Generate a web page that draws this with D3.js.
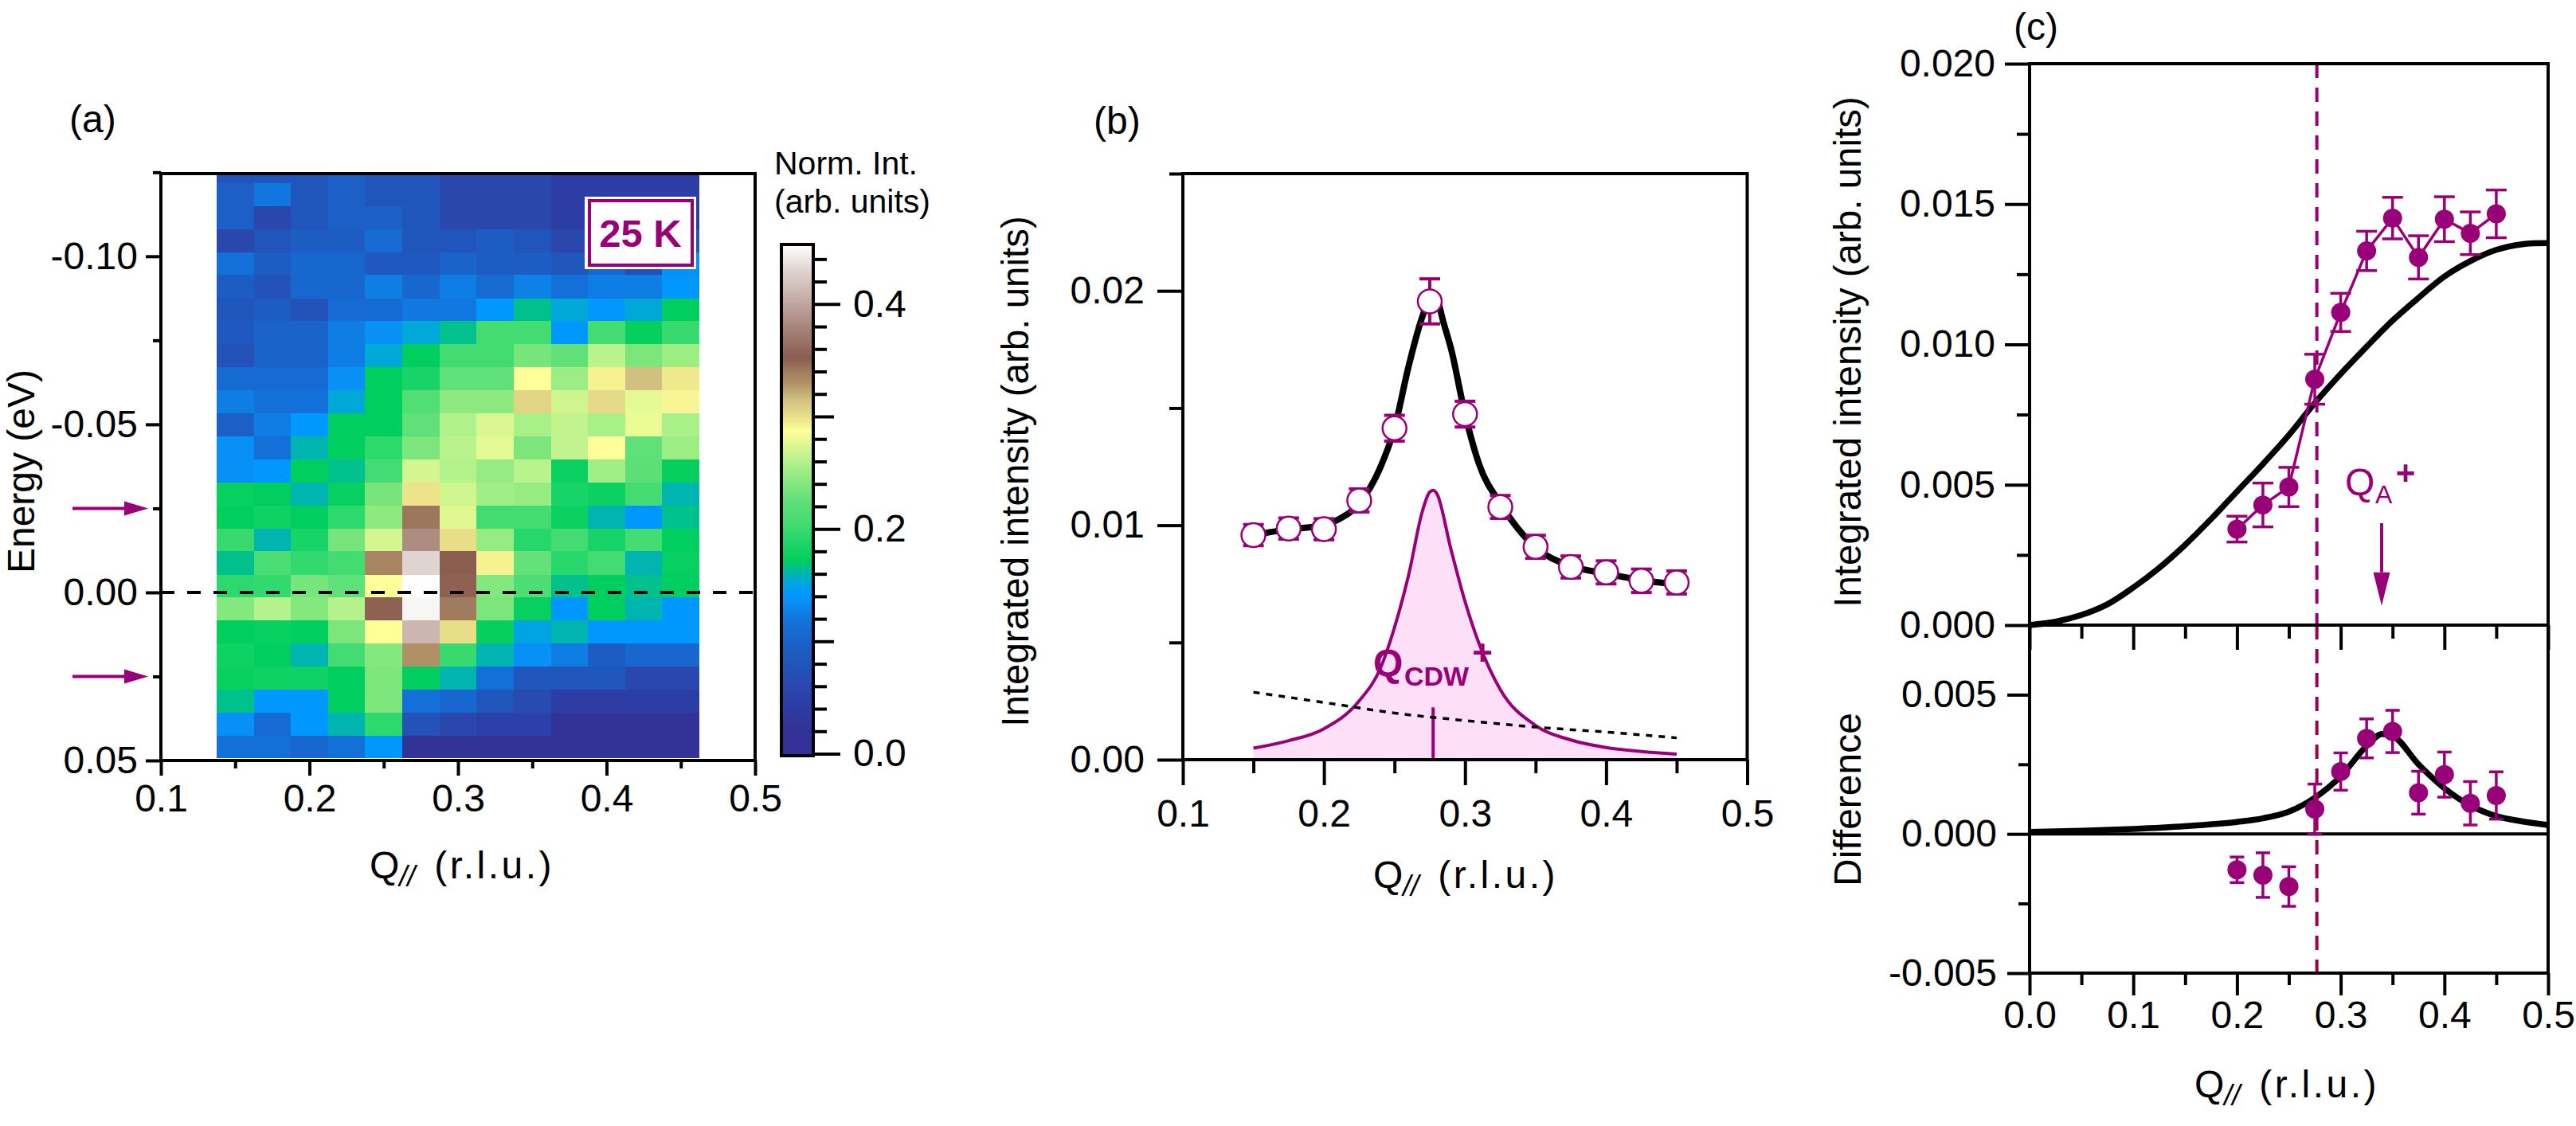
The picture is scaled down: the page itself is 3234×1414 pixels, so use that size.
<!DOCTYPE html>
<html>
<head>
<meta charset="utf-8">
<script src="https://cdn.jsdelivr.net/npm/d3@7"></script>
<style>
  body { margin: 0; background: #fff; }
  text { font-family: "Liberation Sans", Arial, sans-serif; fill: #000; }
</style>
</head>
<body>
<div id="vis"></div>
<script>
const width = 3234;
const height = 1414;
const purple = "#990077";

// (a) intensity map
const heatQ = [0.15, 0.175, 0.2, 0.225, 0.25, 0.275, 0.3, 0.325, 0.35, 0.375, 0.4, 0.425, 0.45];
const heatE = [-0.1252, -0.1184, -0.1115, -0.1047, -0.0978, -0.0910, -0.0841, -0.0773, -0.0704, -0.0636, -0.0567, -0.0499, -0.0430,
  -0.0362, -0.0293, -0.0225, -0.0156, -0.0088, -0.0019, 0.0049, 0.0118, 0.0186, 0.0255, 0.0323, 0.0392, 0.0460];
const heatValues = [
  [.08, .08, .08, .095, .08, .08, .06, .06, .06, .045, .045, .045, .045],
  [.095, .12, .08, .095, .08, .08, .06, .06, .06, .045, .045, .045, .045],
  [.095, .06, .08, .095, .095, .08, .06, .06, .06, .045, .045, .045, .045],
  [.06, .08, .09, .09, .11, .08, .08, .09, .08, .06, .06, .06, .08],
  [.115, .09, .105, .105, .085, .085, .10, .09, .09, .08, .105, .07, .135],
  [.09, .075, .105, .105, .125, .105, .125, .11, .127, .115, .125, .125, .142],
  [.08, .09, .075, .11, .11, .122, .122, .142, .165, .153, .142, .153, .172],
  [.085, .10, .10, .125, .135, .153, .165, .205, .205, .142, .205, .175, .20],
  [.075, .10, .10, .125, .153, .172, .205, .205, .235, .225, .262, .237, .25],
  [.11, .11, .11, .135, .172, .185, .225, .225, .287, .25, .292, .315, .296],
  [.125, .115, .115, .153, .172, .215, .245, .245, .305, .27, .302, .278, .291],
  [.095, .125, .142, .172, .172, .225, .258, .274, .256, .265, .256, .28, .256],
  [.135, .115, .16, .172, .195, .237, .262, .278, .237, .265, .287, .225, .25],
  [.135, .142, .172, .165, .205, .272, .26, .248, .262, .178, .252, .222, .175],
  [.176, .172, .16, .176, .235, .298, .27, .252, .248, .185, .178, .205, .16],
  [.172, .18, .172, .195, .245, .342, .276, .205, .205, .178, .16, .142, .165],
  [.2, .16, .185, .235, .272, .385, .30, .248, .192, .205, .185, .205, .172],
  [.165, .21, .197, .205, .335, .43, .352, .292, .227, .192, .205, .16, .176],
  [.195, .197, .235, .225, .287, .455, .35, .24, .212, .165, .172, .165, .172],
  [.24, .26, .24, .26, .35, .448, .34, .237, .176, .142, .172, .16, .142],
  [.172, .176, .172, .237, .287, .41, .30, .175, .15, .16, .142, .142, .142],
  [.18, .172, .16, .205, .24, .33, .2, .16, .135, .125, .09, .105, .105],
  [.176, .18, .18, .172, .237, .172, .16, .115, .08, .08, .08, .06, .06],
  [.165, .142, .142, .172, .237, .115, .105, .08, .065, .045, .045, .045, .045],
  [.135, .11, .142, .16, .195, .075, .06, .05, .05, .02, .02, .02, .02],
  [.115, .115, .105, .115, .142, .02, .02, .02, .02, .02, .02, .02, .02]
];
const arrowE = [-0.025, 0.025];

const colorStops = [0, .02, .045, .06, .08, .095, .11, .122, .135, .142, .153, .16, .165, .172, .185, .205, .225, .245, .26, .272,
  .287, .30, .315, .33, .34, .352, .385, .405, .43, .448, .455];
const colorValues = ["#33309a", "#333296", "#2c3da5", "#2a47ae", "#2055bb", "#1c5fc6", "#166bd3", "#1078e0", "#0790f5", "#0098ff",
  "#00a8d8", "#00b4b0", "#00c08c", "#00ce5e", "#18d468", "#42dc72", "#60e078", "#8eea80", "#b4f28c", "#d4f690",
  "#ffff99", "#e8de88", "#d2c080", "#b09064", "#a07c5f", "#8b5c50", "#ad8c82", "#c6aea8", "#e0d4d0", "#f8f6f4", "#ffffff"];

// (b) integrated intensity
const bQ = [0.15, 0.175, 0.2, 0.225, 0.25, 0.275, 0.3, 0.325, 0.35, 0.375, 0.4, 0.425, 0.45];
const bInt = [.00958, .00986, .00983, .01106, .01414, .01955, .01474, .01078, .00908, .00822, .00799, .00763, .00756];
const bErr = [.00045, .00045, .00045, .00049, .00055, .00096, .00055, .00049, .00049, .00047, .00049, .0005, .00049];
const bFitQ = [.15, .175, .2, .21, .225, .24, .25, .26, .27, .275, .28, .285, .29, .3, .31, .325, .35, .375, .4, .425, .45];
const bFit = [.00958, .00983, .01, .01024, .01093, .01247, .01414, .01678, .01894, .01964, .01957, .01859, .01755, .01474, .0126, .01093, .00905, .00826, .00794, .00766, .00748];
const peakQ = [.15, .175, .2, .225, .24, .25, .26, .27, .275, .2775, .28, .29, .3, .31, .325, .35, .375, .4, .425, .45];
const peak = [.00049, .00081, .00132, .00251, .0039, .00564, .00787, .01065, .01142, .01149, .01135, .00898, .00675, .00494, .00299, .00146, .00084, .00052, .00035, .00024];
const bgQ = [.15, .2, .25, .3, .35, .4, .45];
const bg = [.00288, .00244, .00199, .00167, .00139, .00118, .00093];
const qCdw = 0.2774;

// (c) upper and lower panels
const cQ = [.2, .225, .25, .275, .3, .325, .35, .375, .4, .425, .45];
const cInt = [.00342, .00428, .00492, .00876, .01114, .01333, .0145, .0131, .01446, .01396, .01465];
const cIntErr = [.00046, .00078, .0007, .00089, .00068, .0007, .00074, .00077, .0008, .00076, .00085];
const cFitQ = [0, .025, .05, .075, .1, .125, .15, .175, .2, .225, .25, .275, .3, .325, .35, .375, .4, .425, .45, .475, .5];
const cFit = [0, .00012, .00036, .00074, .00134, .00204, .00286, .00378, .00476, .00574, .00677, .00791, .00895, .00992, .01085, .01166, .01242, .01297, .01337, .01357, .01361];
const cDiff = [-.00129, -.00148, -.00189, .00089, .00224, .00343, .00368, .00148, .00213, .0011, .00138];
const cDiffErr = [.00046, .0008, .00071, .0009, .00067, .0007, .00076, .00077, .00081, .00078, .00085];
const cDiffFitQ = [0, .05, .1, .15, .2, .225, .25, .275, .3, .325, .34, .35, .375, .4, .425, .45, .475, .5];
const cDiffFit = [.00007, .00011, .00018, .00028, .00043, .00056, .0008, .0013, .00207, .00316, .00359, .00352, .0025, .00164, .00102, .00064, .00045, .00032];
const qA = 0.3395;
const qLine = 0.277;

const svg = d3.select("#vis").append("svg").attr("width", width).attr("height", height);

// Draws major and minor ticks with the d3 axes, labels only on the major ones
function addAxis(maker, scale, x, y, major, minor, lenMajor, lenMinor, pad, fmt) {
  const g = svg.append("g").attr("transform", `translate(${x},${y})`);
  g.append("g").call(maker(scale).tickValues(minor).tickSize(lenMinor).tickSizeOuter(0).tickFormat(""));
  g.append("g").call(maker(scale).tickValues(major).tickSize(lenMajor).tickSizeOuter(0).tickPadding(pad).tickFormat(fmt));
  g.selectAll(".domain").remove();
  g.selectAll("line").attr("stroke", "#000").attr("stroke-width", 4);
  g.selectAll("text").attr("font-size", 48).attr("font-family", "Liberation Sans, Arial, sans-serif");
  return g;
}

function addFrame(xs, ys) {
  svg.append("rect")
    .attr("x", xs.range()[0]).attr("y", ys.range()[1])
    .attr("width", xs.range()[1] - xs.range()[0]).attr("height", ys.range()[0] - ys.range()[1])
    .attr("fill", "none").attr("stroke", "#000").attr("stroke-width", 4);
}

function addLabel(str, x, y, size, opts = {}) {
  const t = svg.append("text").attr("x", x).attr("y", y).attr("font-size", size).text(str);
  if (opts.anchor) t.attr("text-anchor", opts.anchor);
  if (opts.weight) t.attr("font-weight", opts.weight);
  if (opts.color) t.style("fill", opts.color);
  if (opts.rotate) t.attr("transform", `rotate(-90,${x},${y})`);
  return t;
}

function addQTitle(cx, y) {
  const t = svg.append("text").attr("x", cx).attr("y", y).attr("font-size", 48).attr("text-anchor", "middle");
  t.append("tspan").text("Q");
  t.append("tspan").attr("dy", 10).attr("font-size", 36).attr("font-style", "italic").text("//");
  t.append("tspan").attr("dy", -10).attr("dx", 24).attr("letter-spacing", 3.5).text("(r.l.u.)");
}

function addArrow(x1, y1, x2, y2, head, half) {
  const horizontal = y1 === y2;
  svg.append("line").attr("x1", x1).attr("y1", y1).attr("x2", horizontal ? x2 - head : x2).attr("y2", horizontal ? y2 : y2 - head)
    .attr("stroke", purple).attr("stroke-width", 4);
  const pts = horizontal
    ? [[x2, y2], [x2 - head, y2 - half], [x2 - head, y2 + half]]
    : [[x2, y2], [x2 - half, y2 - head], [x2 + half, y2 - head]];
  svg.append("polygon").attr("points", pts.map(p => p.join(",")).join(" ")).attr("fill", purple);
}

function addErrors(xs, ys, qs, vals, errs, capHalf, sw) {
  const g = svg.append("g").attr("stroke", purple).attr("stroke-width", sw);
  qs.forEach((q, i) => {
    const x = xs(q), lo = ys(vals[i] - errs[i]), hi = ys(vals[i] + errs[i]);
    g.append("line").attr("x1", x).attr("x2", x).attr("y1", lo).attr("y2", hi);
    g.append("line").attr("x1", x - capHalf).attr("x2", x + capHalf).attr("y1", lo).attr("y2", lo);
    g.append("line").attr("x1", x - capHalf).attr("x2", x + capHalf).attr("y1", hi).attr("y2", hi);
  });
}

function addCurve(xs, ys, qs, vals, stroke, sw, curve) {
  const line = d3.line().x(d => xs(d[0])).y(d => ys(d[1])).curve(curve);
  return svg.append("path").datum(qs.map((q, i) => [q, vals[i]]))
    .attr("d", line).attr("fill", "none").attr("stroke", stroke).attr("stroke-width", sw);
}

// ---------- Panel (a) ----------
const xA = d3.scaleLinear().domain([0.1, 0.5]).range([202, 948]);
const yA = d3.scaleLinear().domain([0.05, -0.1246]).range([955, 218]);
const colorScale = d3.scaleLinear().domain(colorStops).range(colorValues);
const qStep = heatQ[1] - heatQ[0];
const eStep = heatE[1] - heatE[0];

svg.append("clipPath").attr("id", "clipA").append("rect")
  .attr("x", xA(0.1)).attr("y", yA(-0.1246)).attr("width", xA(0.5) - xA(0.1)).attr("height", yA(0.05) - yA(-0.1246));

// rows are drawn top to bottom with 1px overlap so no seams show between them
svg.append("g").attr("clip-path", "url(#clipA)").attr("shape-rendering", "crispEdges")
  .selectAll("g").data(heatValues).join("g")
  .each(function (row, r) {
    d3.select(this).selectAll("rect").data(row).join("rect")
      .attr("x", (d, c) => xA(heatQ[c] - qStep / 2))
      .attr("y", yA(heatE[r] - eStep / 2))
      .attr("width", (d, c) => xA(qStep) - xA(0) + (c < row.length - 1 ? 1 : 0))
      .attr("height", yA(eStep) - yA(0) + (r < heatValues.length - 1 ? 1 : 0))
      .attr("fill", d => colorScale(d));
  });

svg.append("line").attr("x1", xA(0.1)).attr("x2", xA(0.5)).attr("y1", yA(0)).attr("y2", yA(0))
  .attr("stroke", "#000").attr("stroke-width", 4).attr("stroke-dasharray", "17 16");

addFrame(xA, yA);
addAxis(d3.axisBottom, xA, 0, 955, [.1, .2, .3, .4, .5], [.15, .25, .35, .45], 19, 10, 11, d => d.toFixed(1));
addAxis(d3.axisLeft, yA, 202, 0, [-.1, -.05, 0, .05], [-.125, -.075, -.025, .025], 19, 10, 10, d => d.toFixed(2));
addLabel("Energy (eV)", 43, 592, 48, { anchor: "middle", rotate: true });
addQTitle(580, 1103);
addLabel("(a)", 87, 166, 48);
arrowE.forEach(e => addArrow(91, yA(e), 186, yA(e), 30, 9));

// temperature box
svg.append("rect").attr("x", 734).attr("y", 247).attr("width", 140).attr("height", 91).attr("fill", "#fff");
svg.append("rect").attr("x", 740).attr("y", 252).attr("width", 129).attr("height", 81)
  .attr("fill", "#fff").attr("stroke", purple).attr("stroke-width", 4);
addLabel("25 K", 804, 310, 49, { anchor: "middle", weight: "bold", color: purple });

// colour bar
const yBar = d3.scaleLinear().domain([0, 0.453]).range([946.5, 307]);
const grad = svg.append("defs").append("linearGradient").attr("id", "barGrad")
  .attr("gradientUnits", "userSpaceOnUse").attr("x1", 0).attr("x2", 0).attr("y1", yBar(0)).attr("y2", yBar(0.453));
colorStops.forEach((s, i) => {
  grad.append("stop").attr("offset", Math.min(1, s / 0.453)).attr("stop-color", colorValues[i]);
});
svg.append("rect").attr("x", 981).attr("y", 307).attr("width", 40).attr("height", 642)
  .attr("fill", "url(#barGrad)").attr("stroke", "#000").attr("stroke-width", 4);
addAxis(d3.axisRight, yBar, 1021, 0, [0, .2, .4], [.02, .04, .06, .08, .12, .14, .16, .18, .22, .24, .26, .28, .32, .34, .36, .38, .42, .44], 34, 17, 16, d => d.toFixed(1));
addAxis(d3.axisRight, yBar, 1021, 0, [.1, .3], [], 26, 0, 0, "");
addLabel("Norm. Int.", 972, 219, 41);
addLabel("(arb. units)", 972, 267, 41);

// ---------- Panel (b) ----------
const xB = d3.scaleLinear().domain([0.1, 0.5]).range([1485, 2193.5]);
const yB = d3.scaleLinear().domain([0, 0.025]).range([954, 218]);

const area = d3.area().x(d => xB(d[0])).y0(yB(0)).y1(d => yB(d[1])).curve(d3.curveMonotoneX);
svg.append("path").datum(peakQ.map((q, i) => [q, peak[i]])).attr("d", area).attr("fill", "#fde0f7");
addCurve(xB, yB, peakQ, peak, purple, 4, d3.curveMonotoneX);
svg.append("line").attr("x1", xB(qCdw)).attr("x2", xB(qCdw)).attr("y1", yB(0)).attr("y2", yB(0.00223))
  .attr("stroke", purple).attr("stroke-width", 4);
addCurve(xB, yB, bgQ, bg, "#000", 3.5, d3.curveMonotoneX).attr("stroke-dasharray", "8 8");
addCurve(xB, yB, bFitQ, bFit, "#000", 8, d3.curveMonotoneX);
addErrors(xB, yB, bQ, bInt, bErr, 13, 4);
svg.append("g").selectAll("circle").data(bQ).join("circle")
  .attr("cx", d => xB(d)).attr("cy", (d, i) => yB(bInt[i])).attr("r", 15)
  .attr("fill", "#fff").attr("stroke", purple).attr("stroke-width", 2.5);

addFrame(xB, yB);
addAxis(d3.axisBottom, xB, 0, 954, [.1, .2, .3, .4, .5], [.15, .25, .35, .45], 32, 17, 18, d => d.toFixed(1));
addAxis(d3.axisLeft, yB, 1485, 0, [0, .01, .02], [.005, .015, .025], 32, 17, 16, d => d.toFixed(2));
addLabel("Integrated intensity (arb. units)", 1291, 592, 47.5, { anchor: "middle", rotate: true });
addQTitle(1840, 1115);
addLabel("(b)", 1373, 168, 48);
addLabel("Q", 1724, 849, 48, { weight: "bold", color: purple });
addLabel("CDW", 1763, 861, 34, { weight: "bold", color: purple });
addLabel("+", 1861, 835, 44, { anchor: "middle", weight: "bold", color: purple });

// ---------- Panel (c) ----------
const xC = d3.scaleLinear().domain([0, 0.5]).range([2548, 3199]);
const yC1 = d3.scaleLinear().domain([0, 0.02]).range([785, 80]);
const yC2 = d3.scaleLinear().domain([-0.005, 0.0075]).range([1222, 785]);

addCurve(xC, yC1, cFitQ, cFit, "#000", 7.5, d3.curveCatmullRom);
addCurve(xC, yC2, cDiffFitQ, cDiffFit, "#000", 7.5, d3.curveMonotoneX);
svg.append("line").attr("x1", xC(0)).attr("x2", xC(0.5)).attr("y1", yC2(0)).attr("y2", yC2(0))
  .attr("stroke", "#000").attr("stroke-width", 4);
svg.append("line").attr("x1", xC(qLine)).attr("x2", xC(qLine)).attr("y1", yC1(0.02)).attr("y2", yC1(0))
  .attr("stroke", purple).attr("stroke-width", 4).attr("stroke-dasharray", "18 12");
svg.append("line").attr("x1", xC(qLine)).attr("x2", xC(qLine)).attr("y1", yC2(0.0075)).attr("y2", yC2(-0.005))
  .attr("stroke", "#9e0050").attr("stroke-width", 4).attr("stroke-dasharray", "18 12");

addCurve(xC, yC1, cQ, cInt, purple, 3.5, d3.curveLinear);
addErrors(xC, yC1, cQ, cInt, cIntErr, 13, 3.5);
svg.append("g").selectAll("circle").data(cQ).join("circle")
  .attr("cx", d => xC(d)).attr("cy", (d, i) => yC1(cInt[i])).attr("r", 12).attr("fill", purple);

addErrors(xC, yC2, cQ, cDiff, cDiffErr, 9, 3.5);
svg.append("g").selectAll("circle").data(cQ).join("circle")
  .attr("cx", d => xC(d)).attr("cy", (d, i) => yC2(cDiff[i])).attr("r", 12).attr("fill", purple);

addFrame(xC, yC1);
addFrame(xC, yC2);
const cMajor = [0, .1, .2, .3, .4, .5];
const cMinor = [.05, .15, .25, .35, .45];
addAxis(d3.axisBottom, xC, 0, 785, cMajor, cMinor, 31, 17, 0, "");
addAxis(d3.axisBottom, xC, 0, 1222, cMajor, cMinor, 28, 15, 7, d => d.toFixed(1));
addAxis(d3.axisLeft, yC1, 2548, 0, [0, .005, .01, .015, .02], [.0025, .0075, .0125, .0175], 31, 16, 12, d => d.toFixed(3));
addAxis(d3.axisLeft, yC2, 2548, 0, [-.005, 0, .005], [-.0025, .0025], 28, 14, 13, d => d.toFixed(3));
addLabel("Integrated intensity (arb. units)", 2336, 442, 47.5, { anchor: "middle", rotate: true });
addLabel("Difference", 2336, 1004, 48, { anchor: "middle", rotate: true });
addQTitle(2871, 1378);
addLabel("(c)", 2528, 50, 48);

addLabel("Q", 2944, 622, 48, { color: purple });
addLabel("A", 2982, 632, 32, { color: purple });
addLabel("+", 3020, 608, 42, { anchor: "middle", weight: "bold", color: purple });
addArrow(xC(qA), yC1(0.00363), xC(qA), yC1(0.00069), 42, 10.5);
</script>
</body>
</html>
